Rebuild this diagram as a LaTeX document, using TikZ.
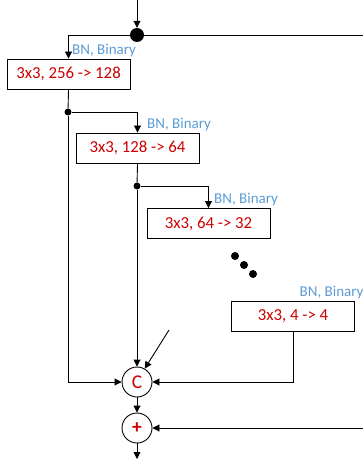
\documentclass[tikz,border=0pt]{standalone}
\usepackage{fontspec}
\setmainfont{Carlito}
\usetikzlibrary{arrows.meta}
\definecolor{boxred}{RGB}{204,0,0}
\definecolor{lblue}{RGB}{91,155,213}
\tikzset{
  conv/.style={draw, line width=0.9pt, minimum width=123pt, minimum height=30pt, inner sep=0pt, text=boxred, font=\fontsize{16.8}{19}\selectfont},
  bnlabel/.style={anchor=west, inner sep=0pt, text=lblue, font=\fontsize{15}{17}\selectfont},
  opnode/.style={draw, circle, line width=0.9pt, minimum size=30pt, inner sep=0pt, text=boxred, font=\fontsize{19.5}{21}\selectfont},
  bigdot/.style={circle, fill=black, minimum size=14pt, inner sep=0pt},
  smalldot/.style={circle, fill=black, minimum size=7pt, inner sep=0pt},
  ellip/.style={circle, fill=black, minimum size=8pt, inner sep=0pt},
  conn/.style={line width=0.9pt},
  arr/.style={conn, -{Triangle[length=7pt,width=7pt]}}
}
\begin{document}
\begin{tikzpicture}[x=1pt,y=-1pt]
\useasboundingbox (0,0) rectangle (363,462);
% nodes
\coordinate (in) at (137,0);
\node[bigdot] (split) at (137,35) {};
\coordinate (rt) at (364,35);
\node[conv] (b1) at (68.5,74) {3x3, 256 -> 128};
\node[smalldot] (d1) at (68,112) {};
\node[conv] (b2) at (137.5,148) {3x3, 128 -> 64};
\node[smalldot] (d2) at (137,186) {};
\node[conv] (b3) at (208.5,223.5) {3x3, 64 -> 32};
\node[ellip] (e1) at (235,256) {};
\node[ellip] (e2) at (244,265) {};
\node[ellip] (e3) at (253,274) {};
\node[conv] (b4) at (293,316) {3x3, 4 -> 4};
\node[opnode] (cat) at (137,382) {C};
\node[opnode] (sum) at (137,428) {\textbf{+}};
\coordinate (diag) at (169,330);
\coordinate (rt2) at (364,428);
\coordinate (out) at (137,459);
% labels
\node[bnlabel] (l1) at (72,51) {BN, Binary};
\node[bnlabel] (l2) at (147,124.5) {BN, Binary};
\node[bnlabel] (l3) at (214,199.5) {BN, Binary};
\node[bnlabel] (l4) at (299.5,293) {BN, Binary};
% connectors
\draw[arr] (in) -- (split);
\draw[conn] (split) -- (rt);
\draw[arr] (split) -| (b1.north);
\draw[conn] (b1.south) -- (d1);
\draw[arr] (d1) -| (b2.north);
\draw[arr] (d1) |- (cat.west);
\draw[conn] (b2.south) -- (d2);
\draw[arr] (d2) -| (b3.north);
\draw[arr] (d2) -- (cat.north);
\draw[arr] (b4.south) |- (cat.east);
\draw[arr] (diag) -- (cat.60);
\draw[arr] (cat.south) -- (sum.north);
\draw[arr] (rt2) -- (sum.east);
\draw[arr] (sum.south) -- (out);
\end{tikzpicture}
\end{document}
